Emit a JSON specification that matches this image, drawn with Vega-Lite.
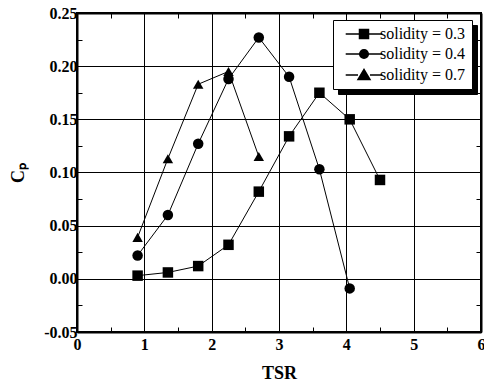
{
  "$schema": "https://vega.github.io/schema/vega-lite/v6.json",
  "width": 404,
  "height": 319,
  "autosize": {"type": "none"},
  "padding": {"left": 77, "top": 13, "right": 3, "bottom": 56},
  "background": "white",
  "config": {
    "font": "Liberation Serif",
    "view": {"stroke": "black", "strokeWidth": 2},
    "axis": {
      "domainColor": "black",
      "domainWidth": 2,
      "tickColor": "black",
      "tickWidth": 1,
      "tickSize": -5,
      "gridColor": "black",
      "gridWidth": 1,
      "labelFont": "Liberation Serif",
      "labelFontWeight": "bold",
      "labelFontSize": 16,
      "labelColor": "black",
      "titleFont": "Liberation Serif",
      "titleFontWeight": "bold",
      "titleFontSize": 18,
      "titleColor": "black"
    },
    "legend": {
      "labelFont": "Liberation Serif",
      "labelFontSize": 16,
      "labelColor": "black",
      "symbolSize": 100,
      "symbolOffset": 17,
      "labelOffset": 8,
      "rowPadding": 4,
      "padding": 6,
      "strokeColor": "black",
      "title": null
    }
  },
  "data": {
    "values": [
      {"series": "solidity = 0.3", "tsr": 0.9, "cp": 0.003},
      {"series": "solidity = 0.3", "tsr": 1.35, "cp": 0.006},
      {"series": "solidity = 0.3", "tsr": 1.8, "cp": 0.012},
      {"series": "solidity = 0.3", "tsr": 2.25, "cp": 0.032},
      {"series": "solidity = 0.3", "tsr": 2.7, "cp": 0.082},
      {"series": "solidity = 0.3", "tsr": 3.15, "cp": 0.134},
      {"series": "solidity = 0.3", "tsr": 3.6, "cp": 0.175},
      {"series": "solidity = 0.3", "tsr": 4.05, "cp": 0.150},
      {"series": "solidity = 0.3", "tsr": 4.5, "cp": 0.093},
      {"series": "solidity = 0.4", "tsr": 0.9, "cp": 0.022},
      {"series": "solidity = 0.4", "tsr": 1.35, "cp": 0.060},
      {"series": "solidity = 0.4", "tsr": 1.8, "cp": 0.127},
      {"series": "solidity = 0.4", "tsr": 2.25, "cp": 0.188},
      {"series": "solidity = 0.4", "tsr": 2.7, "cp": 0.227},
      {"series": "solidity = 0.4", "tsr": 3.15, "cp": 0.190},
      {"series": "solidity = 0.4", "tsr": 3.6, "cp": 0.103},
      {"series": "solidity = 0.4", "tsr": 4.05, "cp": -0.009},
      {"series": "solidity = 0.7", "tsr": 0.9, "cp": 0.039},
      {"series": "solidity = 0.7", "tsr": 1.35, "cp": 0.113},
      {"series": "solidity = 0.7", "tsr": 1.8, "cp": 0.183},
      {"series": "solidity = 0.7", "tsr": 2.25, "cp": 0.195},
      {"series": "solidity = 0.7", "tsr": 2.7, "cp": 0.115}
    ]
  },
  "layer": [
    {
      "mark": {"type": "line", "color": "black", "strokeWidth": 1},
      "encoding": {
        "x": {
          "field": "tsr", "type": "quantitative",
          "scale": {"domain": [0, 6], "nice": false},
          "axis": {
            "orient": "bottom",
            "title": "TSR",
            "values": [0, 0.5, 1, 1.5, 2, 2.5, 3, 3.5, 4, 4.5, 5, 5.5, 6],
            "labelExpr": "datum.value % 1 == 0 ? format(datum.value, 'd') : ''",
            "labelPadding": 9,
            "labelOverlap": false,
            "labelBound": false,
            "labelFlush": false,
            "titlePadding": 12,
            "grid": true,
            "gridOpacity": {"condition": {"test": "datum.value % 1 == 0", "value": 1}, "value": 0}
          }
        },
        "y": {
          "field": "cp", "type": "quantitative",
          "scale": {"domain": [-0.05, 0.25], "nice": false, "zero": false},
          "axis": {
            "orient": "left",
            "title": "Cₚ",
            "values": [-0.05, -0.025, 0, 0.025, 0.05, 0.075, 0.1, 0.125, 0.15, 0.175, 0.2, 0.225, 0.25],
            "labelExpr": "round(datum.value * 1000) % 50 == 0 ? (datum.value < 0 ? '-' + format(-datum.value, '.2f') : format(datum.value, '.2f')) : ''",
            "labelPadding": 5,
            "labelOverlap": false,
            "labelBound": false,
            "labelFlush": false,
            "titlePadding": 16,
            "grid": true,
            "gridOpacity": {"condition": {"test": "round(datum.value * 1000) % 50 == 0", "value": 1}, "value": 0}
          }
        },
        "detail": {"field": "series", "type": "nominal"}
      }
    },
    {
      "mark": {"type": "point", "filled": true, "color": "black", "opacity": 1, "size": 110},
      "encoding": {
        "x": {
          "field": "tsr", "type": "quantitative",
          "axis": {
            "orient": "top", "title": null, "labels": false, "grid": false,
            "values": [0, 0.5, 1, 1.5, 2, 2.5, 3, 3.5, 4, 4.5, 5, 5.5, 6]
          }
        },
        "y": {
          "field": "cp", "type": "quantitative",
          "axis": {
            "orient": "right", "title": null, "labels": false, "grid": false,
            "values": [-0.05, -0.025, 0, 0.025, 0.05, 0.075, 0.1, 0.125, 0.15, 0.175, 0.2, 0.225, 0.25]
          }
        },
        "shape": {
          "field": "series", "type": "nominal",
          "scale": {"domain": ["solidity = 0.3", "solidity = 0.4", "solidity = 0.7"], "range": ["square", "circle", "triangle-up"]},
          "legend": null
        }
      }
    },
    {
      "transform": [{"filter": "false"}],
      "mark": {"type": "point", "filled": true, "fill": "black", "stroke": "black", "strokeWidth": 1, "opacity": 1},
      "encoding": {
        "shape": {
          "field": "series", "type": "nominal",
          "scale": {
            "domain": ["solidity = 0.3", "solidity = 0.4", "solidity = 0.7"],
            "range": [
              "M-3.66,0H-0.9M0.9,0H3.66M-0.9,-0.9H0.9V0.9H-0.9Z",
              "M-3.66,0H-0.86M0.86,0H3.66M-0.86,0A0.86,0.86 0 1,0 0.86,0A0.86,0.86 0 1,0 -0.86,0Z",
              "M-3.66,0H-1.2M1.2,0H3.66M-1.2,0.9L1.2,0.9L0,-1.1Z"
            ]
          },
          "legend": {
            "orient": "none",
            "legendX": 261,
            "legendY": 12,
            "fillColor": "black",
            "labelColor": "black"
          }
        }
      }
    },
    {
      "transform": [{"filter": "false"}],
      "mark": {"type": "point", "filled": true, "fill": "black", "stroke": "black", "strokeWidth": 1, "opacity": 1},
      "encoding": {
        "shape": {
          "field": "series", "type": "nominal",
          "scale": {
            "domain": ["solidity = 0.3", "solidity = 0.4", "solidity = 0.7"],
            "range": [
              "M-3.66,0H-0.9M0.9,0H3.66M-0.9,-0.9H0.9V0.9H-0.9Z",
              "M-3.66,0H-0.86M0.86,0H3.66M-0.86,0A0.86,0.86 0 1,0 0.86,0A0.86,0.86 0 1,0 -0.86,0Z",
              "M-3.66,0H-1.2M1.2,0H3.66M-1.2,0.9L1.2,0.9L0,-1.1Z"
            ]
          },
          "legend": {
            "orient": "none",
            "legendX": 256,
            "legendY": 7,
            "fillColor": "white"
          }
        }
      }
    }
  ],
  "resolve": {
    "axis": {"x": "independent", "y": "independent"},
    "scale": {"shape": "independent"},
    "legend": {"shape": "independent"}
  }
}
